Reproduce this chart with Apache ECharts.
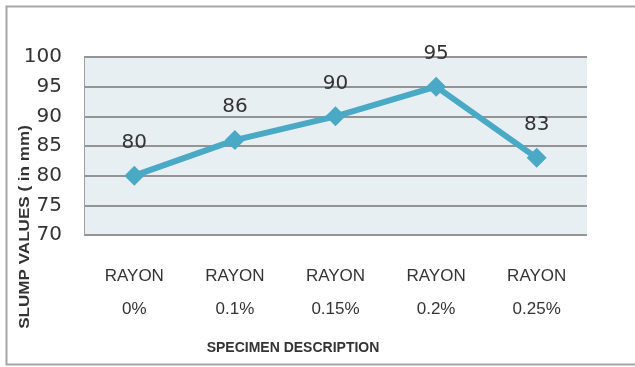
<!DOCTYPE html>
<html>
<head>
<meta charset="utf-8">
<script src="https://cdn.jsdelivr.net/npm/echarts@6/dist/echarts.min.js"></script>
<style>
  html, body { margin: 0; padding: 0; background: #ffffff; }
  #chart { width: 635px; height: 367px; }
</style>
</head>
<body>
<div id="chart"></div>
<script>
// Slump test results for concrete with rayon fibre additions
const specimens = ['0%', '0.1%', '0.15%', '0.2%', '0.25%'];
const specimenPrefix = 'RAYON';
const slumpValues = [80, 86, 90, 95, 83];
const yTicks = [70, 75, 80, 85, 90, 95, 100];

const chart = echarts.init(document.getElementById('chart'), null, { renderer: 'canvas' });

chart.setOption({
  animation: false,
  backgroundColor: '#ffffff',
  grid: { left: 84, top: 57, width: 503, height: 178, containLabel: false,
          show: true, backgroundColor: '#e8eff3', borderWidth: 0 },
  graphic: [
    {
      type: 'rect', silent: true,
      shape: { x: 6.5, y: 6.5, width: 640, height: 358 },
      style: { fill: null, stroke: '#a6a6a6', lineWidth: 2 }
    },
    {
      // vertical axis title, stretched along its length to the condensed face width
      type: 'text', silent: true,
      x: 25, y: 227, rotation: Math.PI / 2, scaleX: 1.22,
      style: {
        text: 'SLUMP VALUES ( in mm)',
        font: 'bold 14px "Liberation Sans"',
        fill: '#333333', align: 'center', verticalAlign: 'middle'
      }
    },
    {
      type: 'text', silent: true,
      x: 293, y: 348,
      style: {
        text: 'SPECIMEN DESCRIPTION',
        font: 'bold 14px "Liberation Sans"',
        fill: '#333333', align: 'center', verticalAlign: 'middle'
      }
    }
  ],
  xAxis: {
    type: 'category',
    data: specimens,
    boundaryGap: true,
    axisLine: { show: false },
    axisTick: { show: false },
    splitLine: { show: false },
    axisLabel: {
      margin: 25,
      interval: 0,
      formatter: v => specimenPrefix + '\n' + v,
      fontFamily: '"Liberation Sans"',
      fontSize: 17,
      lineHeight: 33,
      color: '#333333'
    }
  },
  yAxis: {
    type: 'value',
    min: yTicks[0],
    max: yTicks[yTicks.length - 1],
    interval: yTicks[1] - yTicks[0],
    axisLine: { show: true, lineStyle: { color: '#a0a0a0', width: 1 } },
    axisTick: { show: false },
    splitLine: { show: true, lineStyle: { color: '#949494', width: 2 } },
    axisLabel: {
      margin: 22,
      fontFamily: '"DejaVu Sans"',
      fontSize: 20,
      color: '#333333'
    }
  },
  series: [{
    type: 'line',
    data: slumpValues,
    symbol: 'diamond',
    symbolSize: 20,
    itemStyle: { color: '#4aa9c4' },
    lineStyle: { color: '#4aa9c4', width: 6 },
    label: {
      show: true,
      position: 'top',
      distance: 13,
      fontFamily: '"DejaVu Sans"',
      fontSize: 20,
      color: '#333333'
    }
  }]
});
</script>
</body>
</html>
